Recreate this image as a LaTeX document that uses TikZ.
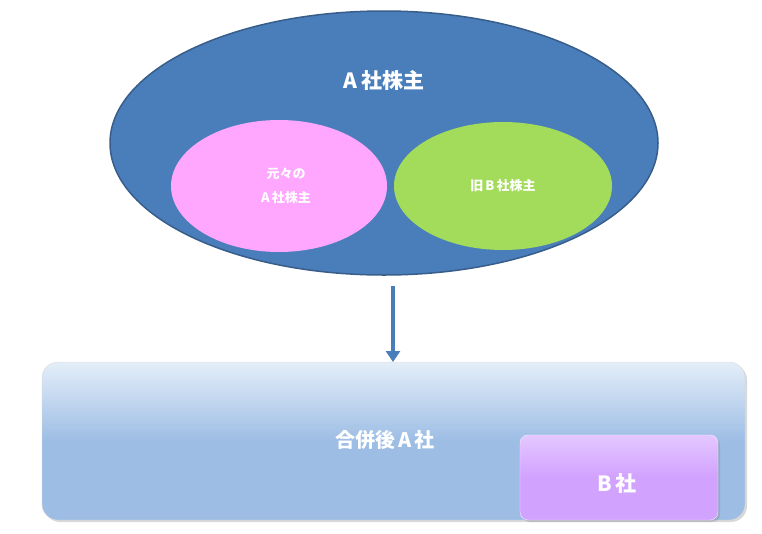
\documentclass[tikz,border=0pt]{standalone}
\usepackage{fontspec}
\newfontfamily\cjk{Noto Sans CJK JP}
\usetikzlibrary{arrows.meta,shadows}
\definecolor{bigblue}{HTML}{4A7EBB}
\definecolor{bigedge}{HTML}{385D8A}
\definecolor{pinkf}{HTML}{FFA6FF}
\definecolor{greenf}{HTML}{A3DC5A}
\definecolor{boxbot}{HTML}{9DBDE4}
\definecolor{boxtop}{HTML}{E4EEF9}
\definecolor{purp}{HTML}{D2A2FF}
\tikzset{
  lbl/.style={text=white,font=\cjk\bfseries},
  ell/.style={ellipse,draw=none,inner sep=0pt},
}
\begin{document}
\begin{tikzpicture}[x=1pt,y=-1pt]
\useasboundingbox (0,0) rectangle (762,533);
\path[fill=bigblue,draw=bigedge,line width=1.5pt] (384,143) ellipse [x radius=274,y radius=132];
\path[fill=pinkf] (279,186) ellipse [x radius=108,y radius=66];
\path[fill=greenf] (503,186) ellipse [x radius=109,y radius=64];
\node[lbl,font=\cjk\bfseries\fontsize{21}{24}\selectfont] (ashare) at (384,80) {A\,社株主};
\node[lbl,font=\cjk\bfseries\fontsize{13}{16}\selectfont,align=center] (orig) at (286,186) {元々の\\[8pt]A\,社株主};
\node[lbl,font=\cjk\bfseries\fontsize{13}{16}\selectfont] (oldb) at (503,186) {旧\,B\,社株主};
\coordinate (top) at (393,286);
\path[top color=boxtop,bottom color=boxbot,middle color=boxbot,draw=white!85!black,rounded corners=16pt,drop shadow={opacity=0.3,shadow xshift=2pt,shadow yshift=-2pt}] (42,362) rectangle (745,520);
\coordinate (bot) at (393,362);
\draw[bigblue,line width=4pt,-{Triangle[length=11pt,width=14pt]}] (top) -- (bot);
\node[lbl,font=\cjk\bfseries\fontsize{20}{24}\selectfont] (merged) at (385,440) {合併後\,A\,社};
\path[top color=purp!60!white,bottom color=purp,middle color=purp,draw=white!80!purp,rounded corners=8pt,drop shadow={opacity=0.3,shadow xshift=2pt,shadow yshift=-2pt}] (520,435) rectangle (718,520);
\node[lbl,font=\cjk\bfseries\fontsize{21}{24}\selectfont] (bco) at (617,484) {B\,社};
\end{tikzpicture}
\end{document}
